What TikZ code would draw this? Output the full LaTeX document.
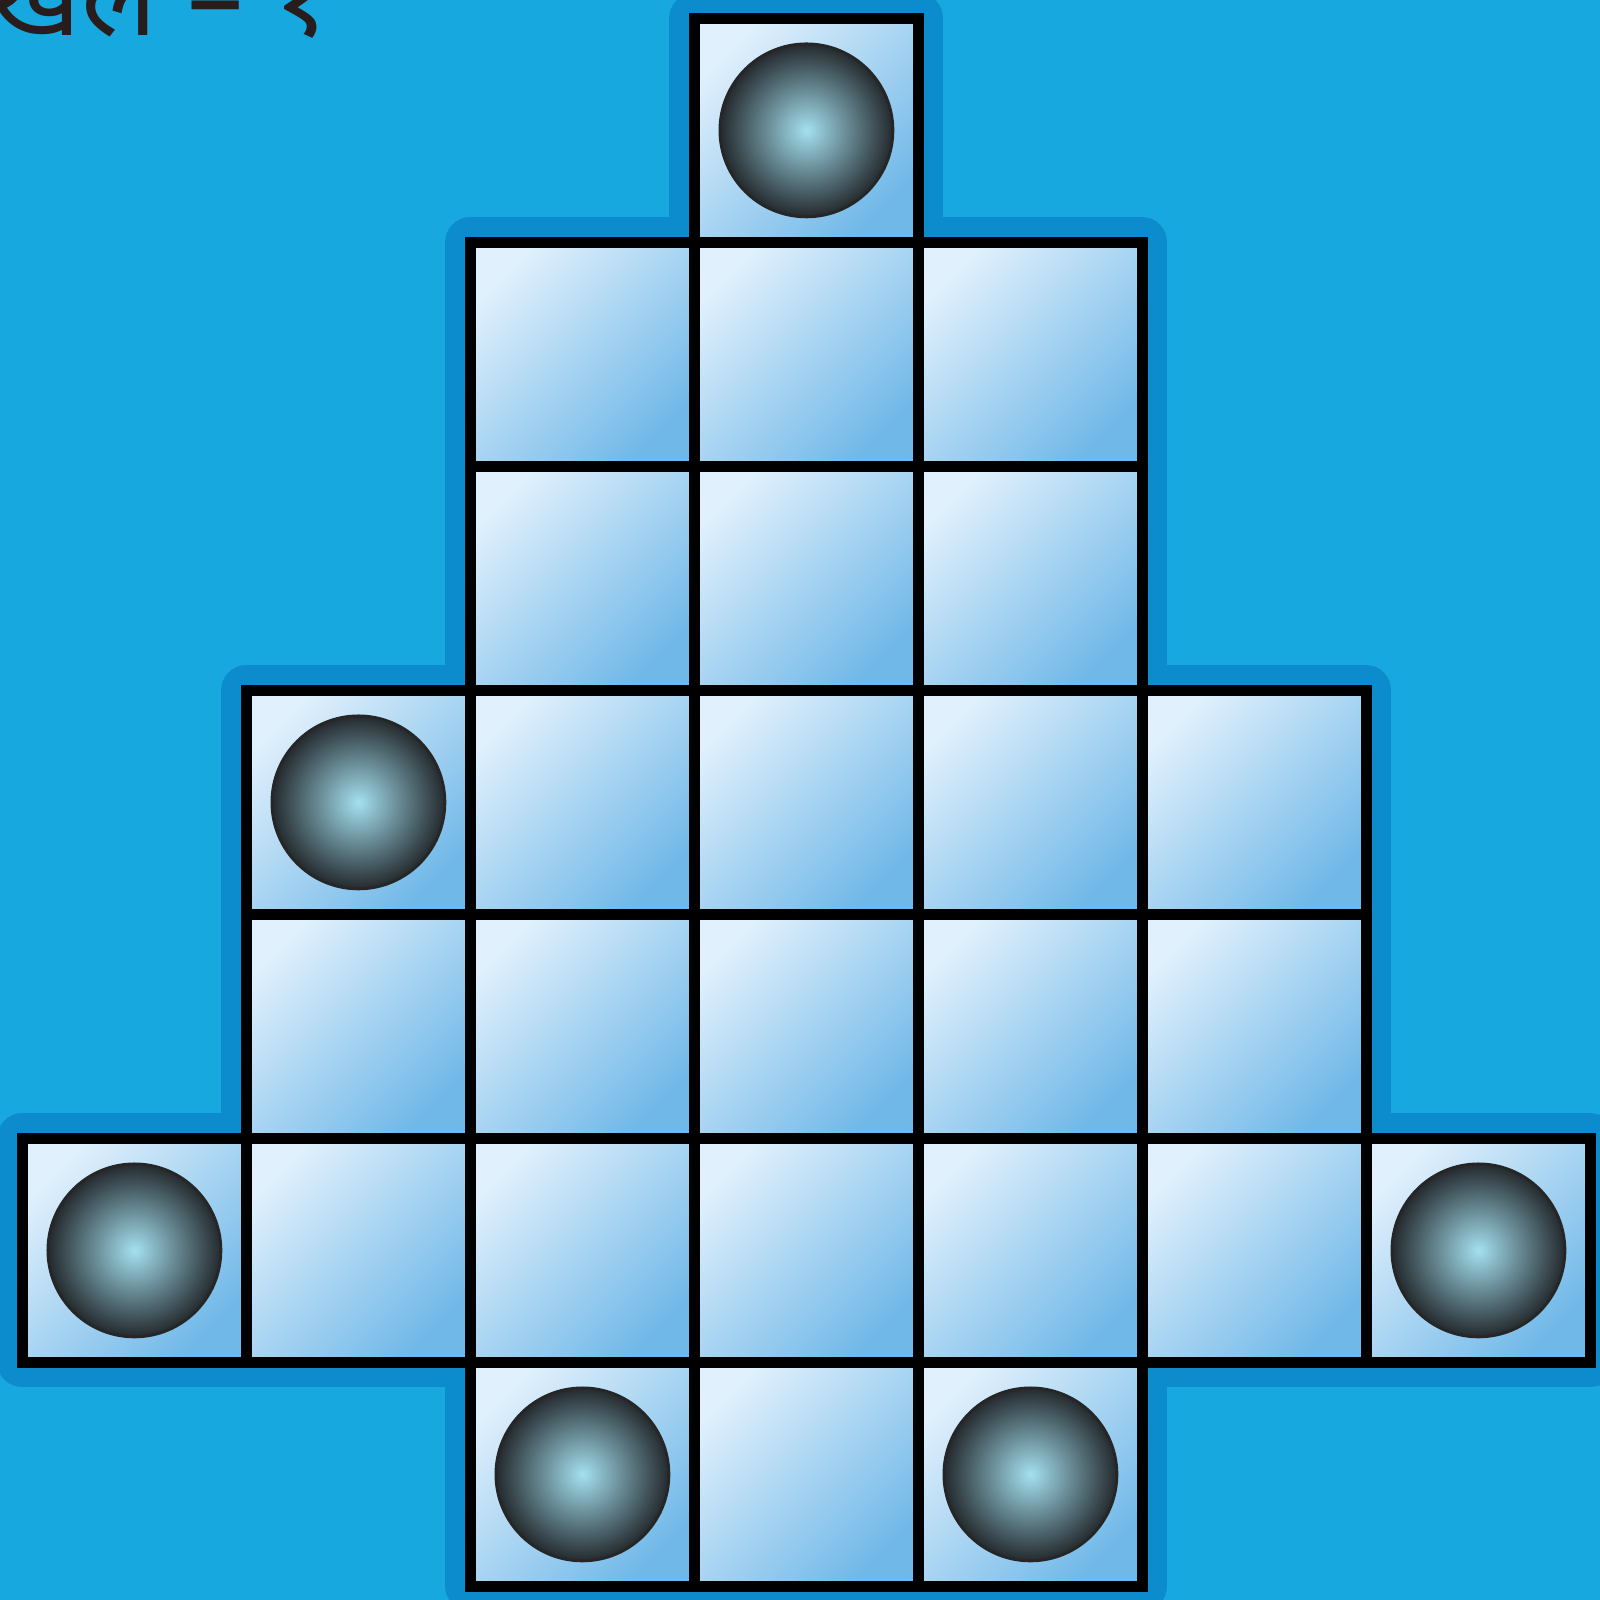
\documentclass[tikz,border=0pt]{standalone}
\usepackage{fontspec}
\newfontfamily\devfont[Script=Devanagari]{Noto Sans}
\usepackage{tikz}
\definecolor{boardbg}{RGB}{24,168,224}
\definecolor{boardhalo}{RGB}{12,140,204}
\definecolor{cellhi}{RGB}{224,240,252}
\definecolor{celllo}{RGB}{112,184,232}
\definecolor{ballout}{RGB}{36,42,46}
\definecolor{ballin}{RGB}{164,224,240}
\definecolor{inkdark}{RGB}{40,28,28}
\tikzset{
  halo/.style={draw=boardhalo, fill=boardhalo, line width=5mm, line join=round,
    minimum size=22.4mm, inner sep=0pt},
  cell/.style={draw=black, line width=3pt, minimum size=22.4mm, inner sep=0pt,
    top color=cellhi, bottom color=celllo, shading angle=45},
  ball/.style={circle, draw=black!85, line width=0.8pt, minimum size=17.3mm,
    inner sep=0pt, inner color=ballin, outer color=ballout},
  title/.style={anchor=base east, inner sep=0pt, text=inkdark,
    font=\devfont\fontsize{32}{36}\selectfont},
}

\begin{document}
\begin{tikzpicture}
  \fill[boardbg] (0,0) rectangle (16,16);
  \useasboundingbox (0,0) rectangle (16,16);
  \node[title] (heading) at (3.32,15.64) {खेल – १};
  \foreach \col/\row in {3/0,2/1,3/1,4/1,2/2,3/2,4/2,1/3,2/3,3/3,4/3,5/3,
                         1/4,2/4,3/4,4/4,5/4,0/5,1/5,2/5,3/5,4/5,5/5,6/5,2/6,3/6,4/6}
    \node[halo] (h\col\row) at ({1.344+2.24*\col},{14.696-2.24*\row}) {};
  \foreach \col/\row in {3/0,2/1,3/1,4/1,2/2,3/2,4/2,1/3,2/3,3/3,4/3,5/3,
                         1/4,2/4,3/4,4/4,5/4,0/5,1/5,2/5,3/5,4/5,5/5,6/5,2/6,3/6,4/6}
    \node[cell] (c\col\row) at ({1.344+2.24*\col},{14.696-2.24*\row}) {};
  \foreach \col/\row in {3/0,1/3,0/5,6/5,2/6,4/6}
    \node[ball] (b\col\row) at (c\col\row) {};
\end{tikzpicture}
\end{document}
